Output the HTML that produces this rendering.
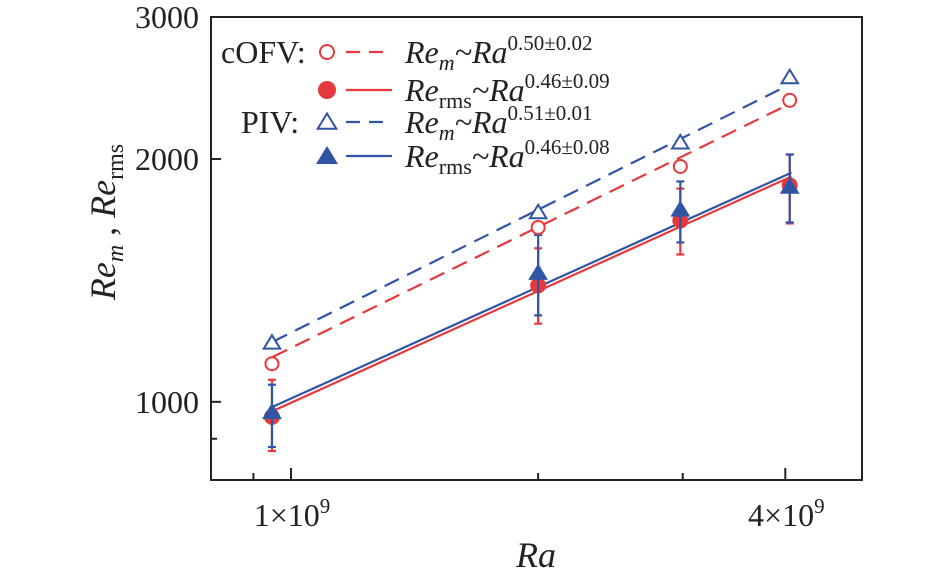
<!DOCTYPE html>
<html><head><meta charset="utf-8"><style>
body{margin:0;background:#fff;}
svg{display:block;font-family:"Liberation Serif",serif;}
</style></head><body>
<svg id="chart" width="945" height="579"></svg>
<script>
const raVals=[0.948e9,2.0e9,2.98e9,4.05e9];
const remCOFV=[1115,1645,1958,2365];
const remPIV=[1184,1718,2097,2526];
const rmsCOFV=[958,1394,1678,1855];
const rmsPIV=[972,1446,1732,1849];
const rmsCOFVlo=[869,1250,1523,1664];
const rmsCOFVhi=[1065,1550,1838,2026];
const rmsPIVlo=[879,1280,1576,1669];
const rmsPIVhi=[1050,1610,1876,2026];
const fitDashRa=[0.95e9,3.97e9];
const fitSolidRa=[0.95e9,4.07e9];
const fitRemCOFV=[1137,2318];
const fitRemPIV=[1187,2449];
const fitRmsCOFV=[974,1903];
const fitRmsPIV=[986,1924];
const yTicks=[1000,2000,3000];
const yMinor=[900];
const xTicks=[1e9,4e9];
const xTickLabels=["1","4"];
const xMinor=[9e8,2e9,3e9];

const L=211,R=862,T=17,B=480;
const xLo=Math.log10(0.799e9),xHi=Math.log10(4.96e9);
const yLo=Math.log10(800),yHi=Math.log10(3000);
const X=v=>L+(Math.log10(v)-xLo)/(xHi-xLo)*(R-L);
const Y=v=>B-(Math.log10(v)-yLo)/(yHi-yLo)*(B-T);
const RED="#e5393b",BLUE="#2f55a4";
const svg=document.getElementById('chart');
const NS="http://www.w3.org/2000/svg";
function mk(tag,attrs,parent){const e=document.createElementNS(NS,tag);for(const k in attrs)e.setAttribute(k,attrs[k]);(parent||svg).appendChild(e);return e;}

let frame=mk('rect',{x:L,y:T,width:R-L,height:B-T,fill:'none',stroke:'#222','stroke-width':2});



yTicks.forEach(v=>{
  const t=mk('line',{x1:L,x2:L+10,y1:Y(v),y2:Y(v),stroke:'#222','stroke-width':2});
  
  
  const tx=mk('text',{x:L-12,y:Y(v)+11,'text-anchor':'end','font-size':32,fill:'#222'});
  tx.textContent=v;
  
  
});
yMinor.forEach(v=>{
  const t=mk('line',{x1:L,x2:L+6,y1:Y(v),y2:Y(v),stroke:'#222','stroke-width':2});
  
  
});
xTicks.forEach((v,i)=>{
  const t=mk('line',{x1:X(v),x2:X(v),y1:B,y2:B-12,stroke:'#222','stroke-width':2});
  
  
  const tx=mk('text',{x:X(v)+1,y:B+46,'text-anchor':'middle','font-size':32,fill:'#222'});
  tx.innerHTML=xTickLabels[i]+'×10<tspan dy="-13" font-size="21">9</tspan>';
  
  
});
xMinor.forEach(v=>{
  const t=mk('line',{x1:X(v),x2:X(v),y1:B,y2:B-7,stroke:'#222','stroke-width':2});
  
  
});

function fit(raArr,reArr,color,dash,name){
  const l=mk('line',{x1:X(raArr[0]),y1:Y(reArr[0]),x2:X(raArr[1]),y2:Y(reArr[1]),stroke:color,'stroke-width':2.2,'stroke-dasharray':dash?'16,9':'none'});
  
  
}
fit(fitDashRa,fitRemCOFV,RED,true,'fit-rem-cofv');
fit(fitDashRa,fitRemPIV,BLUE,true,'fit-rem-piv');
fit(fitSolidRa,fitRmsCOFV,RED,false,'fit-rms-cofv');
fit(fitSolidRa,fitRmsPIV,BLUE,false,'fit-rms-piv');

function errbars(lo,hi,color,name){
  raVals.forEach((r,i)=>{
    const x=X(r);
    const g=mk('g',{stroke:color,'stroke-width':2.2});
    
    
    mk('line',{x1:x,x2:x,y1:Y(lo[i]),y2:Y(hi[i])},g);
    mk('line',{x1:x-4,x2:x+4,y1:Y(lo[i]),y2:Y(lo[i])},g);
    mk('line',{x1:x-4,x2:x+4,y1:Y(hi[i]),y2:Y(hi[i])},g);
  });
}
function tri(cx,cy,s){return `${cx},${cy-s} ${cx-s*1.1},${cy+s*0.8} ${cx+s*1.1},${cy+s*0.8}`;}
errbars(rmsCOFVlo,rmsCOFVhi,RED,'errorbar-rms-cofv');
raVals.forEach((r,i)=>{
  const c=mk('circle',{cx:X(r),cy:Y(rmsCOFV[i]),r:8,fill:RED});
  
  
});
errbars(rmsPIVlo,rmsPIVhi,BLUE,'errorbar-rms-piv');
raVals.forEach((r,i)=>{
  const p=mk('polygon',{points:tri(X(r),Y(rmsPIV[i]),9),fill:BLUE});
  
  
});
raVals.forEach((r,i)=>{
  const c=mk('circle',{cx:X(r),cy:Y(remCOFV[i]),r:6.5,fill:'#fff',stroke:RED,'stroke-width':2});
  
  
  const p=mk('polygon',{points:tri(X(r),Y(remPIV[i]),7.5),fill:'#fff',stroke:BLUE,'stroke-width':2});
  
  
});

// legend
const remLbl=e=>'<tspan font-style="italic">Re<tspan dy="7" font-size="22">m</tspan><tspan dy="-7">~Ra</tspan></tspan><tspan dy="-13" font-size="21">'+e+'</tspan>';
const rmsLbl=e=>'<tspan font-style="italic">Re</tspan><tspan dy="7" font-size="22">rms</tspan><tspan dy="-7" font-style="italic">~Ra</tspan><tspan dy="-13" font-size="21">'+e+'</tspan>';
const leg=[
  {y:52,color:RED,dash:true,marker:'oc',label:remLbl('0.50±0.02'),pre:'cOFV:',px:221},
  {y:90,color:RED,dash:false,marker:'fc',label:rmsLbl('0.46±0.09'),pre:'',px:0},
  {y:122,color:BLUE,dash:true,marker:'ot',label:remLbl('0.51±0.01'),pre:'PIV:',px:241},
  {y:156,color:BLUE,dash:false,marker:'ft',label:rmsLbl('0.46±0.08'),pre:'',px:0}
];
leg.forEach(e=>{
  const g=mk('g',{});
  
  
  if(e.pre){const t=mk('text',{x:e.px,y:e.y+11,'font-size':32,fill:'#222'},g);t.textContent=e.pre;}
  const mx=327;
  if(e.marker==='oc')mk('circle',{cx:mx,cy:e.y,r:7,fill:'#fff',stroke:e.color,'stroke-width':2},g);
  if(e.marker==='fc')mk('circle',{cx:mx,cy:e.y,r:9,fill:e.color},g);
  if(e.marker==='ot')mk('polygon',{points:tri(mx,e.y,8.5),fill:'#fff',stroke:e.color,'stroke-width':2},g);
  if(e.marker==='ft')mk('polygon',{points:tri(mx,e.y,10),fill:e.color},g);
  mk('line',{x1:346,x2:392,y1:e.y,y2:e.y,stroke:e.color,'stroke-width':2.2,'stroke-dasharray':e.dash?'14,9':'none'},g);
  const t=mk('text',{x:405,y:e.y+11,'font-size':32,fill:'#222'},g);
  t.innerHTML=e.label;
});

const yl=mk('text',{x:0,y:0,'font-size':36,fill:'#222','text-anchor':'middle',transform:'translate(115,222) rotate(-90)'});
yl.innerHTML='<tspan font-style="italic">Re</tspan><tspan dy="8" font-size="24" font-style="italic">m</tspan><tspan dy="-8"> , </tspan><tspan font-style="italic">Re</tspan><tspan dy="8" font-size="24">rms</tspan>';


const xl=mk('text',{x:536,y:567,'font-size':36,'font-style':'italic',fill:'#222','text-anchor':'middle'});
xl.textContent='Ra';


</script>
</body></html>
